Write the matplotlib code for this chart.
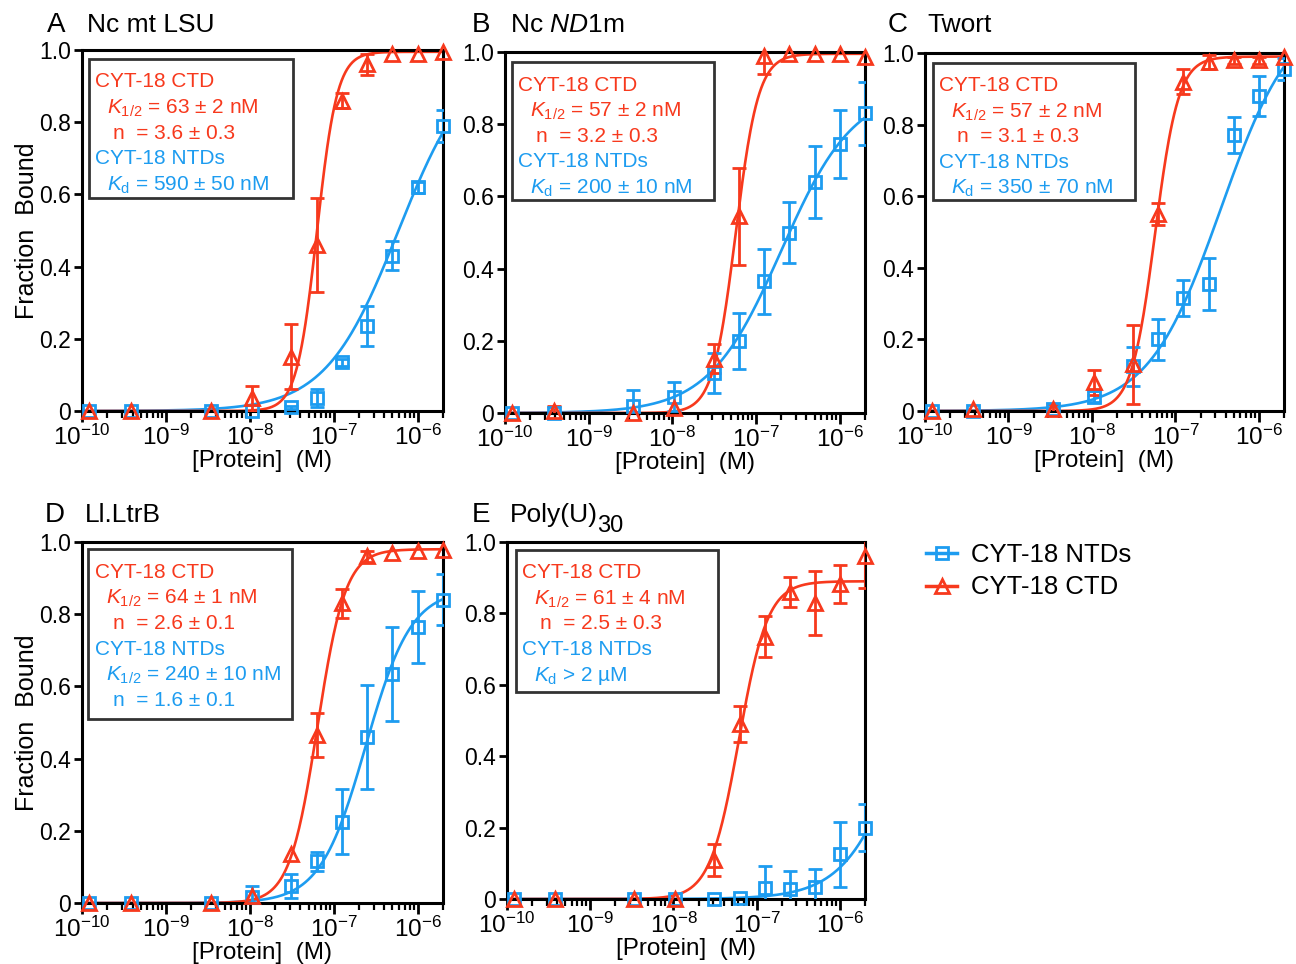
import numpy as np
import matplotlib.pyplot as plt
from matplotlib.lines import Line2D
from matplotlib.patches import Rectangle
from matplotlib.ticker import LogLocator, FixedLocator, NullFormatter, LogFormatterMathtext

plt.rcParams['font.family'] = 'Liberation Sans'
plt.rcParams['mathtext.fontset'] = 'custom'
plt.rcParams['mathtext.rm'] = 'Liberation Sans'
plt.rcParams['mathtext.it'] = 'Liberation Sans:italic'
plt.rcParams['mathtext.bf'] = 'Liberation Sans:bold'

RED = '#f7391d'
BLUE = '#1d9cf0'

# protein concentrations (M)
conc = np.array([1.2e-10, 3.8e-10, 3.4e-9, 1.05e-8, 3.1e-8, 6.25e-8,
                 1.25e-7, 2.5e-7, 5e-7, 1e-6, 2e-6])

# A  Nc mt LSU
a_ctd = [0, 0, 0, 0.035, 0.15, 0.46, 0.86, 0.96, 0.99, 0.99, 0.995]
a_ctd_err = [0, 0, 0, 0.035, 0.09, 0.13, 0.02, 0.03, 0, 0, 0]
a_ntd = [0, 0, 0, 0, 0.01, 0.035, 0.135, 0.235, 0.43, 0.62, 0.79]
a_ntd_err = [0, 0, 0, 0, 0.005, 0.025, 0.01, 0.055, 0.04, 0.015, 0.045]
a_ctd_fit = (0.995, 63e-9, 3.6)
a_ntd_fit = (1.0, 590e-9, 1.0)

# B  Nc ND1m
b_ctd = [0, 0.005, 0, 0.015, 0.15, 0.545, 0.99, 0.995, 0.995, 0.995, 0.985]
b_ctd_err = [0, 0.015, 0, 0, 0.04, 0.135, 0.05, 0, 0, 0, 0]
b_ntd = [0, 0, 0.02, 0.045, 0.11, 0.2, 0.365, 0.5, 0.64, 0.745, 0.83]
b_ntd_err = [0, 0, 0.045, 0.04, 0.055, 0.078, 0.09, 0.085, 0.1, 0.093, 0.088]
b_ctd_fit = (0.995, 57e-9, 3.2)
b_ntd_fit = (0.9, 200e-9, 1.0)

# C  Twort
c_ctd = [0, 0.005, 0.005, 0.08, 0.13, 0.55, 0.92, 0.975, 0.98, 0.98, 0.99]
c_ctd_err = [0, 0, 0.015, 0.035, 0.11, 0.03, 0.035, 0.02, 0.01, 0.01, 0]
c_ntd = [0, 0, 0.005, 0.04, 0.125, 0.2, 0.315, 0.355, 0.77, 0.88, 0.955]
c_ntd_err = [0, 0, 0, 0.015, 0.055, 0.057, 0.05, 0.072, 0.05, 0.055, 0.03]
c_ctd_fit = (0.99, 57e-9, 3.1)
c_ntd_fit = (1.13, 350e-9, 1.0)

# D  Ll.LtrB
d_ctd = [0, 0, 0, 0.02, 0.135, 0.465, 0.83, 0.96, 0.97, 0.975, 0.978]
d_ctd_err = [0, 0, 0, 0, 0, 0.06, 0.04, 0.015, 0, 0, 0]
d_ntd = [0, 0, 0, 0.017, 0.047, 0.115, 0.225, 0.46, 0.635, 0.765, 0.84]
d_ntd_err = [0, 0, 0, 0.03, 0.033, 0.025, 0.09, 0.145, 0.13, 0.1, 0.07]
d_ctd_fit = (0.98, 64e-9, 2.6)
d_ntd_fit = (0.87, 240e-9, 1.6)

# E  Poly(U)30
e_ctd = [0, 0, 0, 0, 0.11, 0.49, 0.735, 0.86, 0.83, 0.883, 0.96]
e_ctd_err = [0, 0, 0, 0, 0.045, 0.05, 0.058, 0.042, 0.09, 0.053, 0.09]
e_ntd = [0, 0, 0, 0, 0, 0.003, 0.031, 0.028, 0.035, 0.125, 0.2]
e_ntd_err = [0, 0, 0, 0, 0, 0, 0.062, 0.05, 0.048, 0.09, 0.065]
e_ctd_fit = (0.89, 61e-9, 2.5)
e_ntd_fit = (1.0, 7e-6, 1.2)

a_box = [("CYT-18 CTD", RED, 0), (r"$K_{\mathrm{1/2}}$ = 63 ± 2 nM", RED, 1),
         ("n  = 3.6 ± 0.3", RED, 2), ("CYT-18 NTDs", BLUE, 0),
         (r"$K_{\mathrm{d}}$ = 590 ± 50 nM", BLUE, 1)]
b_box = [("CYT-18 CTD", RED, 0), (r"$K_{\mathrm{1/2}}$ = 57 ± 2 nM", RED, 1),
         ("n  = 3.2 ± 0.3", RED, 2), ("CYT-18 NTDs", BLUE, 0),
         (r"$K_{\mathrm{d}}$ = 200 ± 10 nM", BLUE, 1)]
c_box = [("CYT-18 CTD", RED, 0), (r"$K_{\mathrm{1/2}}$ = 57 ± 2 nM", RED, 1),
         ("n  = 3.1 ± 0.3", RED, 2), ("CYT-18 NTDs", BLUE, 0),
         (r"$K_{\mathrm{d}}$ = 350 ± 70 nM", BLUE, 1)]
d_box = [("CYT-18 CTD", RED, 0), (r"$K_{\mathrm{1/2}}$ = 64 ± 1 nM", RED, 1),
         ("n  = 2.6 ± 0.1", RED, 2), ("CYT-18 NTDs", BLUE, 0),
         (r"$K_{\mathrm{1/2}}$ = 240 ± 10 nM", BLUE, 1), ("n  = 1.6 ± 0.1", BLUE, 2)]
e_box = [("CYT-18 CTD", RED, 0), (r"$K_{\mathrm{1/2}}$ = 61 ± 4 nM", RED, 1),
         ("n  = 2.5 ± 0.3", RED, 2), ("CYT-18 NTDs", BLUE, 0),
         (r"$K_{\mathrm{d}}$ > 2 µM", BLUE, 1)]


def hill(x, bmax, k, n):
    return bmax * x**n / (k**n + x**n)


W, H = 1296, 964
fig = plt.figure(figsize=(W / 100, H / 100), dpi=100)


def px_axes(left, top, right, bottom):
    return fig.add_axes([left / W, (H - bottom) / H, (right - left) / W, (bottom - top) / H])


def draw_series(ax, y, err, fit, color, marker, ms):
    y = np.asarray(y)
    err = np.asarray(err)
    xs = np.logspace(-10, np.log10(2e-6), 400)
    ax.plot(xs, hill(xs, *fit), color=color, lw=1.9, zorder=2)
    m = err > 0
    ax.errorbar(conc[m], y[m], yerr=err[m], fmt='none', ecolor=color,
                elinewidth=2, capsize=5, capthick=2, zorder=3)
    ax.plot(conc, y, ls='none', marker=marker, ms=ms, mfc='none', mec=color,
            mew=2, zorder=4, clip_on=False)


def style_axes(ax, ylabel):
    ax.set_xscale('log')
    ax.set_xlim(1e-10, 2e-6)
    ax.set_ylim(0, 1.0)
    for s in ax.spines.values():
        s.set_linewidth(2.2)
    ax.xaxis.set_major_locator(FixedLocator([1e-10, 1e-9, 1e-8, 1e-7, 1e-6]))
    ax.xaxis.set_major_formatter(LogFormatterMathtext())
    ax.xaxis.set_minor_locator(LogLocator(base=10, subs=np.arange(2, 10), numticks=20))
    ax.xaxis.set_minor_formatter(NullFormatter())
    ax.yaxis.set_major_locator(FixedLocator([0, 0.2, 0.4, 0.6, 0.8, 1.0]))
    ax.set_yticklabels(['0', '0.2', '0.4', '0.6', '0.8', '1.0'])
    ax.tick_params(axis='both', which='major', direction='out', width=2, pad=2)
    ax.tick_params(axis='x', which='major', length=8, labelsize=17.5)
    ax.tick_params(axis='y', which='major', length=6, labelsize=16.5)
    ax.tick_params(axis='x', which='minor', direction='out', length=5, width=1.6)
    ax.set_xlabel('[Protein]  (M)', fontsize=17.5, labelpad=0)
    if ylabel:
        ax.set_ylabel('Fraction  Bound', fontsize=18, labelpad=0)


def draw_box(ax, box, lines, step):
    x0, y0, x1, y1 = box
    ax.add_patch(Rectangle((x0, y0), x1 - x0, y1 - y0, transform=ax.transAxes,
                           fill=False, ec='#333333', lw=2, zorder=5))
    indents = [x0 + 0.018, x0 + 0.05, x0 + 0.068]
    for i, (txt, color, ind) in enumerate(lines):
        ax.text(indents[ind], y1 - 0.058 - i * step, txt, color=color, fontsize=15,
                transform=ax.transAxes, va='center_baseline', ha='left', zorder=6)


panels = [
    ((82, 50, 443, 411), a_ctd, a_ctd_err, a_ctd_fit, a_ntd, a_ntd_err, a_ntd_fit,
     (0.019, 0.59, 0.584, 0.975), a_box, 0.071, True),
    ((505, 52, 865, 413), b_ctd, b_ctd_err, b_ctd_fit, b_ntd, b_ntd_err, b_ntd_fit,
     (0.019, 0.59, 0.58, 0.972), b_box, 0.071, False),
    ((925, 53, 1284, 411), c_ctd, c_ctd_err, c_ctd_fit, c_ntd, c_ntd_err, c_ntd_fit,
     (0.022, 0.59, 0.585, 0.972), c_box, 0.071, False),
    ((82, 542, 443, 903), d_ctd, d_ctd_err, d_ctd_fit, d_ntd, d_ntd_err, d_ntd_fit,
     (0.017, 0.51, 0.582, 0.98), d_box, 0.071, True),
    ((507, 542, 865, 899), e_ctd, e_ctd_err, e_ctd_fit, e_ntd, e_ntd_err, e_ntd_fit,
     (0.025, 0.58, 0.59, 0.978), e_box, 0.072, False),
]

for rect, ctd, ctd_err, ctd_fit, ntd, ntd_err, ntd_fit, box, lines, step, ylab in panels:
    ax = px_axes(*rect)
    draw_series(ax, ntd, ntd_err, ntd_fit, BLUE, 's', 9)
    draw_series(ax, ctd, ctd_err, ctd_fit, RED, '^', 10)
    style_axes(ax, ylab)
    draw_box(ax, box, lines, step)

# panel titles
titles = [
    ('A', 47, 'Nc mt LSU', 87, 32),
    ('B', 472, r'Nc $\mathit{ND1}$m', 510, 32),
    ('C', 888, 'Twort', 927, 32),
    ('D', 45, 'Ll.LtrB', 85, 522),
    ('E', 472, 'Poly(U)', 510, 522),
]
for letter, lx, name, nx, base in titles:
    fig.text(lx / W, (H - base) / H, letter, fontsize=20, va='baseline', ha='left')
    fig.text(nx / W, (H - base) / H, name, fontsize=19, va='baseline', ha='left')
# subscript of Poly(U)30, drawn near full size
fig.text(597 / W, (H - 532) / H, '30', fontsize=17, va='baseline', ha='left')

handles = [
    Line2D([], [], color=BLUE, lw=2.5, marker='s', ms=9, mfc='none', mew=2),
    Line2D([], [], color=RED, lw=2.5, marker='^', ms=10, mfc='none', mew=2),
]
fig.legend(handles, ['CYT-18 NTDs', 'CYT-18 CTD'], loc='center left',
           bbox_to_anchor=(903 / W, (H - 571) / H), frameon=False, fontsize=18.5,
           handlelength=1.2, handletextpad=0.55, labelspacing=0.35)

fig.savefig('out.png', dpi=100)
